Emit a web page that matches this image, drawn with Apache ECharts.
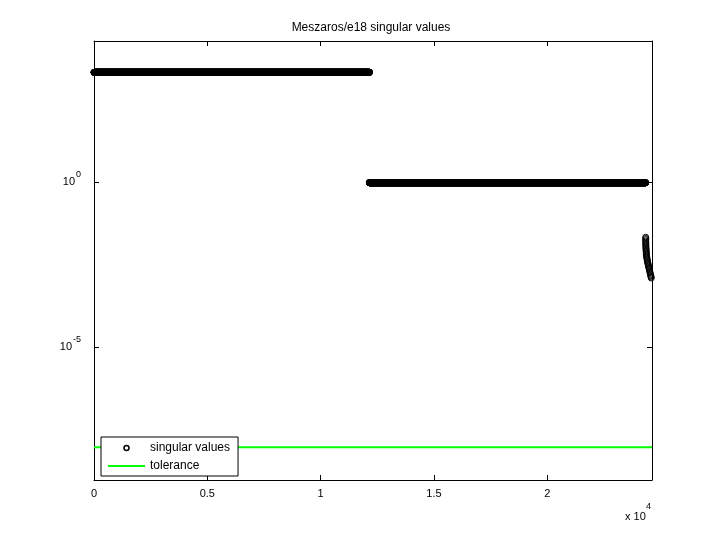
<!DOCTYPE html>
<html><head><meta charset="utf-8">
<script src="https://cdn.jsdelivr.net/npm/echarts@6/dist/echarts.min.js"></script>
<style>html,body{margin:0;padding:0;background:#fff}#c{width:720px;height:540px}</style>
</head><body><div id="c"></div>
<script>
const chartTitle = 'Meszaros/e18 singular values';
const seriesNames = ['singular values', 'tolerance'];
const nTotal = 24617;
// plateaus of (visually) constant singular values: first index, last index, value
const plateauStart = [1, 12151];
const plateauEnd = [12150, 24332];
const plateauValue = [2180, 0.97];
// the small singular values at the end
const tailIndex = [24339, 24340, 24341, 24342, 24343, 24344, 24345, 24346, 24348, 24351, 24354, 24357, 24361, 24364, 24367, 24371, 24380, 24389, 24398, 24408, 24417, 24427, 24439, 24452, 24465, 24477, 24490, 24502, 24516, 24528, 24540, 24551, 24563, 24575, 24585];
const tailValue = [0.02137, 0.01965, 0.01806, 0.0165, 0.01517, 0.01395, 0.01282, 0.01179, 0.01084, 0.00997, 0.00917, 0.00843, 0.00775, 0.00713, 0.00656, 0.00603, 0.00554, 0.0051, 0.00469, 0.00431, 0.00396, 0.00364, 0.00335, 0.00308, 0.00283, 0.0026, 0.00239, 0.0022, 0.00202, 0.00186, 0.00171, 0.00157, 0.00145, 0.00133, 0.00124];
const toleranceValue = 9e-9;
const xTickValues = [0, 5000, 10000, 15000, 20000];
const xTickLabels = ['0', '0.5', '1', '1.5', '2'];
const yTickValues = [1e-5, 1];
const yTickExponents = ['-5', '0'];
const yMin = 9.1e-10;
const yMax = 19500;

const svData = [];
for (let p = 0; p < plateauStart.length; p++) {
  for (let i = plateauStart[p]; i <= plateauEnd[p]; i++) svData.push([i, plateauValue[p]]);
}
for (let k = 0; k < tailIndex.length; k++) svData.push([tailIndex[k], tailValue[k]]);
const tolData = [[0, toleranceValue], [nTotal, toleranceValue]];

const FONT = 'Liberation Sans';
const chart = echarts.init(document.getElementById('c'), null, {renderer: 'canvas'});
const axisLineStyle = {show: true, lineStyle: {color: '#000', width: 1}};
const tickStyle = {show: true, inside: true, length: 5, lineStyle: {color: '#000', width: 1}};
function xAxisDef(pos, labels) {
  return {
    type: 'value', position: pos, min: 0, max: nTotal,
    axisLine: Object.assign({onZero: false}, axisLineStyle),
    axisTick: Object.assign({customValues: xTickValues}, tickStyle),
    splitLine: {show: false},
    axisLabel: {show: labels, customValues: xTickValues, margin: 8, color: '#000', fontFamily: FONT, fontSize: 11,
      formatter: v => xTickLabels[xTickValues.indexOf(v)]}
  };
}
function yAxisDef(pos, labels) {
  return {
    type: 'log', logBase: 10, position: pos, min: yMin, max: yMax,
    axisLine: Object.assign({onZero: false}, axisLineStyle),
    axisTick: Object.assign({customValues: yTickValues}, tickStyle),
    minorTick: {show: false},
    splitLine: {show: false},
    axisLabel: {show: labels, customValues: yTickValues, margin: 13, color: '#000', fontFamily: FONT,
      formatter: v => {
        let idx = 0, best = 1e9;
        yTickValues.forEach((t, j) => { const d = Math.abs(Math.log10(t) - Math.log10(v)); if (d < best) { best = d; idx = j; } });
        return '{b|10}{s|' + yTickExponents[idx] + '}';
      },
      rich: {b: {fontSize: 11, fontFamily: FONT, color: '#000'}, s: {fontSize: 9, fontFamily: FONT, color: '#000', padding: [0, 0, 15, 1]}}
    }
  };
}
chart.setOption({
  animation: false,
  backgroundColor: '#fff',
  title: {text: chartTitle, left: 371, top: 22, textAlign: 'center', padding: 0,
    textStyle: {fontFamily: FONT, fontSize: 12, fontWeight: 'normal', color: '#000'}},
  grid: {left: 94, right: 68, top: 41, bottom: 60, containLabel: false},
  xAxis: [xAxisDef('bottom', true), xAxisDef('top', false)],
  yAxis: [yAxisDef('left', true), yAxisDef('right', false)],
  legend: {
    orient: 'vertical', left: 101, top: 437, itemWidth: 37, itemHeight: 5, itemGap: 6,
    padding: [5, 8, 4, 6], backgroundColor: '#fff', borderColor: '#000', borderWidth: 1, borderRadius: 0,
    textStyle: {fontFamily: FONT, fontSize: 12, color: '#000'},
    selectedMode: false,
    data: [
      {name: seriesNames[0], icon: 'circle', itemStyle: {color: 'rgba(0,0,0,0)', borderColor: '#000', borderWidth: 1.5}},
      {name: seriesNames[1], itemStyle: {opacity: 0}}
    ]
  },
  graphic: [
    {type: 'text', left: 625, top: 511, style: {text: 'x 10', fontFamily: FONT, fontSize: 11, fill: '#000'}},
    {type: 'text', left: 646, top: 502, style: {text: '4', fontFamily: FONT, fontSize: 9, fill: '#000'}}
  ],
  series: [
    {name: seriesNames[0], type: 'scatter', data: svData, xAxisIndex: 0, yAxisIndex: 0,
      symbol: 'circle', symbolSize: 6, clip: false, large: false, progressive: 0, silent: true,
      itemStyle: {color: 'rgba(0,0,0,0)', borderColor: '#000', borderWidth: 1, opacity: 1},
      emphasis: {disabled: true}},
    {name: seriesNames[1], type: 'line', data: tolData, xAxisIndex: 0, yAxisIndex: 0,
      symbol: 'none', showSymbol: false, silent: true, color: '#00ff00',
      lineStyle: {color: '#00ff00', width: 2}, emphasis: {disabled: true}}
  ]
});
</script></body></html>
